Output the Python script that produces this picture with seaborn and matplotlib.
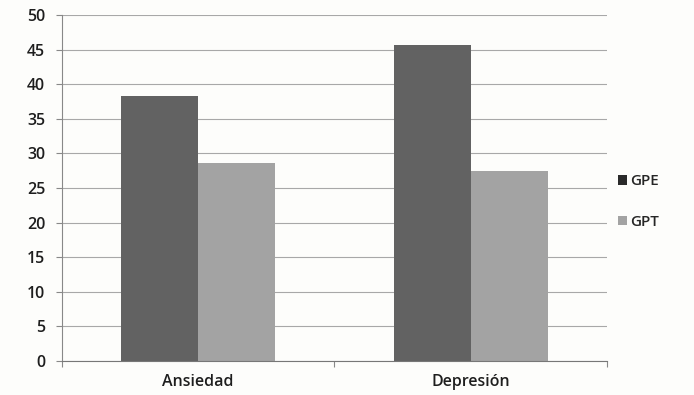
import matplotlib
matplotlib.use("Agg")
import matplotlib.pyplot as plt
import seaborn as sns
import pandas as pd
from matplotlib.patches import Patch

categories = ["Ansiedad", "Depresión"]
groups = ["GPE", "GPT"]
gpe_values = [38.3, 45.7]
gpt_values = [28.6, 27.5]
y_ticks = [0, 5, 10, 15, 20, 25, 30, 35, 40, 45, 50]

df = pd.DataFrame({
    "categoria": categories * 2,
    "grupo": [groups[0]] * 2 + [groups[1]] * 2,
    "valor": gpe_values + gpt_values,
})

sns.set_theme(style="white")
plt.rcParams["font.family"] = ["Open Sans", "DejaVu Sans"]
plt.rcParams["font.weight"] = "semibold"

palette = {"GPE": "#626262", "GPT": "#a3a3a3"}

fig = plt.figure(figsize=(6.94, 3.95), dpi=100, facecolor="#fdfdfb")
ax = fig.add_axes([0.0893, 0.086, 0.7853, 0.876])
ax.set_facecolor("#fdfdfb")

sns.barplot(data=df, x="categoria", y="valor", hue="grupo", palette=palette,
            width=0.565, gap=0, ax=ax, saturation=1, legend=False,
            edgecolor="none")

ax.set_ylim(0, 50)
ax.set_xlim(-0.5, 1.5)
ax.set_yticks(y_ticks)
ax.set_yticklabels([str(t) for t in y_ticks], fontsize=11.5, color="#1e1e1e")
ax.tick_params(axis="x", labelsize=11.5, colors="#1e1e1e", length=0, pad=9)
ax.tick_params(axis="y", length=4, width=0.8, color="#888888", direction="out", left=True, pad=8)
ax.set_xticks([-0.5, 0.5, 1.5], minor=True)
ax.tick_params(axis="x", which="minor", length=4, width=0.8, color="#888888", bottom=True)
ax.set_xlabel("")
ax.set_ylabel("")

ax.yaxis.grid(True, color="#a8a8a8", linewidth=0.8)
ax.set_axisbelow(True)
for side in ["top", "right"]:
    ax.spines[side].set_visible(False)
ax.spines["left"].set_color("#888888")
ax.spines["bottom"].set_color("#777777")
ax.spines["left"].set_linewidth(0.8)
ax.spines["bottom"].set_linewidth(0.8)

handles = [Patch(facecolor="#2a2a2a", edgecolor="none"), Patch(facecolor="#a3a3a3", edgecolor="none")]
fig.legend(handles, groups, loc="center left", bbox_to_anchor=(0.870, 0.49),
           frameon=False, fontsize=11, handlelength=0.6, handleheight=0.6,
           handletextpad=0.25, labelspacing=1.75)

fig.savefig("out.png", dpi=100, facecolor=fig.get_facecolor())
